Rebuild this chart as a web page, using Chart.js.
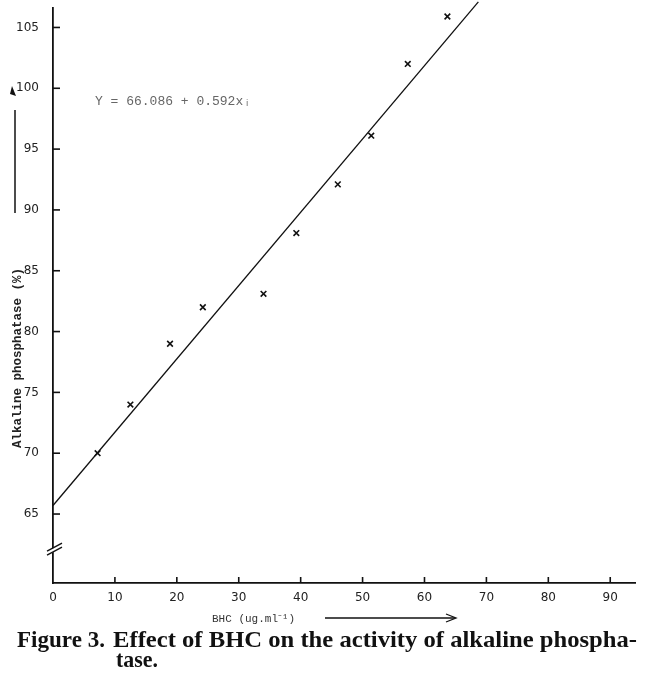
<!DOCTYPE html>
<html>
<head>
<meta charset="utf-8">
<script src="https://cdn.jsdelivr.net/npm/chart.js@4.4.1/dist/chart.umd.min.js"></script>
<style>
html,body{margin:0;padding:0;background:#fff;}
#wrap{position:relative;width:650px;height:696px;}
</style>
</head>
<body>
<div id="wrap"><canvas id="c" width="650" height="696"></canvas></div>
<script>
// Data
const bhcDose = [7.2, 12.5, 18.9, 24.2, 34.0, 39.3, 46.0, 51.4, 57.3, 63.7];
const alkPhosphatase = [70.0, 74.0, 79.0, 82.0, 83.1, 88.1, 92.1, 96.1, 102.0, 105.9];
const fitLineX = [0, 68.7];
const fitLineY = [65.7, 107.1];
const xTickValues = [0, 10, 20, 30, 40, 50, 60, 70, 80, 90];
const yTickValues = [65, 70, 75, 80, 85, 90, 95, 100, 105];
const equationText = 'Y = 66.086 + 0.592xᵢ';
const yAxisTitle = 'Alkaline phosphatase (%)';
const xAxisTitle = 'BHC (ug.ml⁻¹)';
const captionLabel = 'Figure 3.';
const captionLine1 = 'Effect of BHC on the activity of alkaline phospha-';
const captionLine2 = 'tase.';
const axisBreakValue = 62.2;

const points = bhcDose.map((x, i) => ({x: x, y: alkPhosphatase[i]}));
const fitPoints = fitLineX.map((x, i) => ({x: x, y: fitLineY[i]}));

function fitText(ctx, text, x, y, width) {
  const w = ctx.measureText(text).width;
  ctx.save();
  ctx.translate(x, y);
  ctx.scale(width / w, 1);
  ctx.fillText(text, 0, 0);
  ctx.restore();
}

const decorPlugin = {
  id: 'decor',
  afterDraw(chart) {
    const ctx = chart.ctx;
    const xs = chart.scales.x, ys = chart.scales.y;
    const left = chart.chartArea.left, bottom = chart.chartArea.bottom;
    ctx.save();
    ctx.strokeStyle = '#111';
    ctx.lineWidth = 1.6;
    // inward tick marks on x axis
    xTickValues.forEach(v => {
      if (v === 0) return;
      const px = xs.getPixelForValue(v);
      ctx.beginPath(); ctx.moveTo(px, bottom); ctx.lineTo(px, bottom - 6); ctx.stroke();
    });
    // inward tick marks on y axis
    yTickValues.forEach(v => {
      const py = ys.getPixelForValue(v);
      ctx.beginPath(); ctx.moveTo(left, py); ctx.lineTo(left + 7, py); ctx.stroke();
    });
    // axis break mark
    const by = ys.getPixelForValue(axisBreakValue);
    ctx.fillStyle = '#fff';
    ctx.beginPath();
    ctx.moveTo(left - 6, by + 4); ctx.lineTo(left + 9, by - 5);
    ctx.lineTo(left + 9, by - 1); ctx.lineTo(left - 6, by + 8); ctx.closePath();
    ctx.fill();
    ctx.lineWidth = 1.4;
    ctx.beginPath(); ctx.moveTo(left - 6, by + 3); ctx.lineTo(left + 9, by - 5); ctx.stroke();
    ctx.beginPath(); ctx.moveTo(left - 6, by + 7); ctx.lineTo(left + 9, by - 1); ctx.stroke();

    // equation
    ctx.fillStyle = '#666';
    ctx.font = '13px "Liberation Mono"';
    ctx.textAlign = 'left';
    ctx.textBaseline = 'middle';
    ctx.fillText(equationText, 95, 102);

    // y axis title (rotated) with arrow
    ctx.save();
    ctx.translate(18, 358);
    ctx.rotate(-Math.PI / 2);
    ctx.fillStyle = '#222';
    ctx.font = 'bold 12.5px "Liberation Mono"';
    ctx.textAlign = 'center';
    ctx.textBaseline = 'middle';
    ctx.fillText(yAxisTitle, 0, 0);
    ctx.restore();
    ctx.strokeStyle = '#111';
    ctx.lineWidth = 1.5;
    ctx.beginPath(); ctx.moveTo(15, 213); ctx.lineTo(15, 110); ctx.stroke();
    ctx.fillStyle = '#111';
    ctx.beginPath(); ctx.moveTo(12, 86); ctx.lineTo(16, 96); ctx.lineTo(10, 94); ctx.closePath(); ctx.fill();

    // x axis title with arrow
    ctx.fillStyle = '#333';
    ctx.font = '11px "Liberation Mono"';
    ctx.textAlign = 'left';
    ctx.textBaseline = 'middle';
    ctx.fillText(xAxisTitle, 212, 619);
    ctx.lineWidth = 1.3;
    ctx.beginPath(); ctx.moveTo(325, 618); ctx.lineTo(455, 618); ctx.stroke();
    ctx.beginPath(); ctx.moveTo(446, 614); ctx.lineTo(456, 618); ctx.lineTo(446, 622); ctx.stroke();

    // caption
    ctx.fillStyle = '#111';
    ctx.font = 'bold 23px "Liberation Serif"';
    ctx.textBaseline = 'alphabetic';
    fitText(ctx, captionLabel, 17, 647, 88);
    fitText(ctx, captionLine1, 113, 647, 524);
    fitText(ctx, captionLine2, 116, 667, 42);
    ctx.restore();
  }
};

new Chart(document.getElementById('c'), {
  type: 'scatter',
  data: {
    datasets: [
      {
        label: 'fit',
        type: 'line',
        data: fitPoints,
        borderColor: '#111',
        borderWidth: 1.3,
        pointRadius: 0,
        fill: false,
        clip: false,
        order: 2
      },
      {
        label: 'observed',
        data: points,
        pointStyle: 'crossRot',
        pointRadius: 4,
        borderColor: '#111',
        backgroundColor: '#111',
        pointBorderWidth: 1.6,
        order: 1
      }
    ]
  },
  options: {
    responsive: false,
    animation: false,
    devicePixelRatio: 1,
    layout: {padding: {top: 8, right: 15, left: 0, bottom: 0}},
    plugins: {legend: {display: false}, tooltip: {enabled: false}},
    scales: {
      x: {
        type: 'linear',
        min: 0,
        max: 94,
        afterBuildTicks: s => { s.ticks = xTickValues.map(v => ({value: v})); },
        afterFit: s => { s.height = 113; s.paddingLeft = 0; s.paddingRight = 0; },
        grid: {display: false, drawTicks: false},
        border: {display: true, color: '#111', width: 1.8},
        ticks: {color: '#222', font: {family: 'DejaVu Sans', size: 12}, padding: 8, maxRotation: 0}
      },
      y: {
        type: 'linear',
        min: 59.33,
        max: 106.6,
        afterBuildTicks: s => { s.ticks = yTickValues.map(v => ({value: v})); },
        afterFit: s => { s.width = 53; s.paddingTop = 0; s.paddingBottom = 0; },
        grid: {display: false, drawTicks: false},
        border: {display: true, color: '#111', width: 1.8},
        ticks: {color: '#222', font: {family: 'DejaVu Sans', size: 12}, padding: 14}
      }
    }
  },
  plugins: [decorPlugin]
});
</script>
</body>
</html>
